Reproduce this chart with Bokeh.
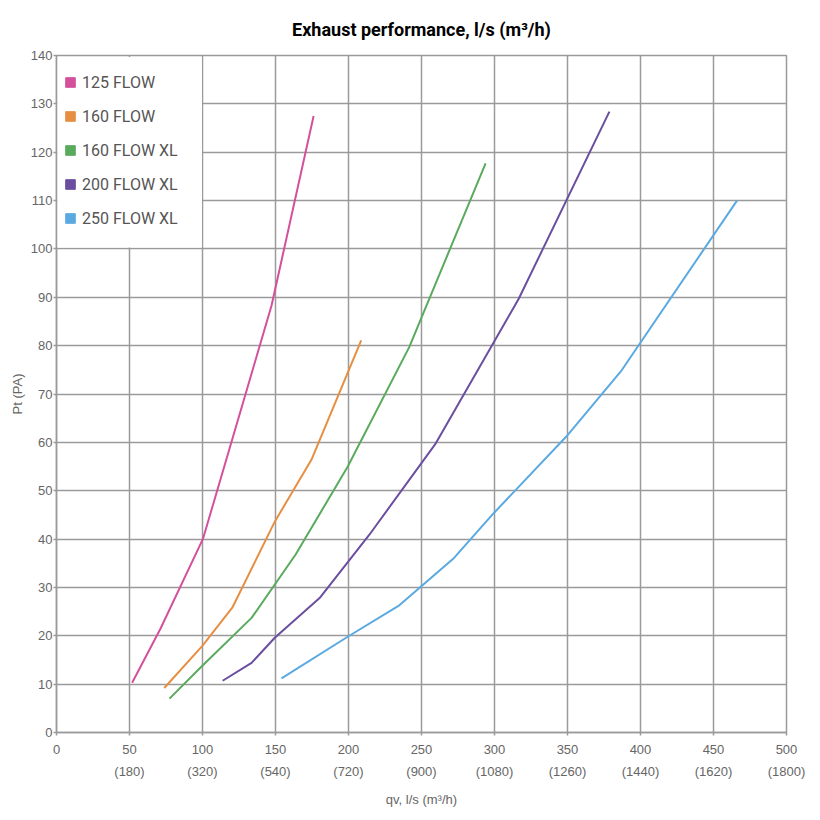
from bokeh.plotting import figure
from bokeh.models import Range1d, FixedTicker, BoxAnnotation, Legend, LegendItem
from bokeh.embed import file_html
from bokeh.resources import INLINE

title_text = "Exhaust performance, l/s (m³/h)"
x_label = "qv, l/s (m³/h)"
y_label = "Pt (PA)"

x_ticks = [0, 50, 100, 150, 200, 250, 300, 350, 400, 450, 500]
x_ticks_m3h = ["", "(180)", "(320)", "(540)", "(720)", "(900)", "(1080)", "(1260)", "(1440)", "(1620)", "(1800)"]
y_ticks = [0, 10, 20, 30, 40, 50, 60, 70, 80, 90, 100, 110, 120, 130, 140]

series_names = ["125 FLOW", "160 FLOW", "160 FLOW XL", "200 FLOW XL", "250 FLOW XL"]
series_colors = ["#d4509b", "#e68f43", "#5aaa5e", "#6b4e9f", "#5ba9e1"]

q_125 = [51.8, 71.1, 100.4, 147.3, 176.1]
p_125 = [10.3, 21.4, 40.1, 88.3, 127.5]

q_160 = [73.8, 99.9, 120.4, 149.5, 174.6, 208.7]
p_160 = [9.2, 17.9, 25.8, 43.6, 56.4, 81.1]

q_160xl = [77.4, 99.9, 133.6, 163.8, 199.5, 241.6, 293.9]
p_160xl = [7.0, 13.8, 23.7, 36.8, 55.0, 79.7, 117.7]

q_200xl = [113.8, 133.6, 149.5, 180.2, 214.3, 259.8, 316.6, 378.7]
p_200xl = [10.7, 14.4, 19.6, 27.8, 40.9, 59.8, 89.7, 128.4]

q_250xl = [154.1, 200.0, 234.8, 272.3, 299.6, 349.2, 387.1, 466.1]
p_250xl = [11.2, 19.9, 26.3, 36.1, 45.4, 61.2, 74.9, 110.0]

series_q = [q_125, q_160, q_160xl, q_200xl, q_250xl]
series_p = [p_125, p_160, p_160xl, p_200xl, p_250xl]

GRID = "#9a9a9a"
TXT = "#666666"

p = figure(width=812, height=812,
           x_range=Range1d(0, 500), y_range=Range1d(0, 140),
           output_backend="svg", toolbar_location=None,
           min_border_left=56, min_border_right=26,
           min_border_top=54, min_border_bottom=80,
           title=title_text)

p.title.align = "center"
p.title.text_font = "Roboto"
p.title.text_font_size = "18px"
p.title.text_font_style = "bold"
p.title.text_color = "#000000"
p.title.standoff = 32

p.xaxis.ticker = FixedTicker(ticks=x_ticks)
p.yaxis.ticker = FixedTicker(ticks=y_ticks)
p.xaxis.major_label_overrides = {
    t: (f"{t}\n{m}" if m else str(t)) for t, m in zip(x_ticks, x_ticks_m3h)
}
p.xaxis.major_label_text_line_height = 1.47

for ax in (p.xaxis, p.yaxis):
    ax.major_label_text_font = "Liberation Sans"
    ax.major_label_text_font_size = "13px"
    ax.major_label_text_color = TXT
    ax.axis_label_text_font = "Liberation Sans"
    ax.axis_label_text_font_size = "13px"
    ax.axis_label_text_font_style = "normal"
    ax.axis_label_text_color = TXT
    ax.axis_line_color = GRID
    ax.axis_line_width = 1.5
    ax.major_tick_line_color = GRID
    ax.major_tick_line_width = 1.5
    ax.major_tick_out = 3
    ax.major_tick_in = 0
    ax.minor_tick_line_color = None

p.xaxis.axis_label = x_label
p.yaxis.axis_label = y_label
p.xaxis.major_label_standoff = 6
p.yaxis.major_label_standoff = 1
p.yaxis.axis_label_standoff = 3
p.xaxis.axis_label_standoff = 10

p.grid.grid_line_color = GRID
p.grid.grid_line_width = 1.5
p.outline_line_color = GRID
p.outline_line_width = 1.5
p.outline_line_alpha = 1.0

# white area behind the legend hides the grid there
p.add_layout(BoxAnnotation(left=0.5, right=99.6, bottom=100.3, top=139.7,
                           fill_color="white", fill_alpha=1.0,
                           line_alpha=0, level="underlay"))

items = []
for name, color, qs, ps in zip(series_names, series_colors, series_q, series_p):
    p.line(qs, ps, line_color=color, line_width=2)
    # zero-size marker: only used to draw the square swatch in the legend
    sq = p.scatter(x=qs[:1], y=ps[:1], marker="square", size=0,
                   fill_color=color, line_color=color)
    items.append(LegendItem(label=name, renderers=[sq]))

legend = Legend(items=items, location=(1, 501),
                glyph_width=24, glyph_height=24, spacing=10,
                padding=1, margin=0, label_standoff=0,
                background_fill_alpha=0, border_line_alpha=0,
                label_text_font="Roboto",
                label_text_font_size="16px", label_text_color="#555555")
p.add_layout(legend)

open("out.html", "w").write(file_html(p, INLINE))
